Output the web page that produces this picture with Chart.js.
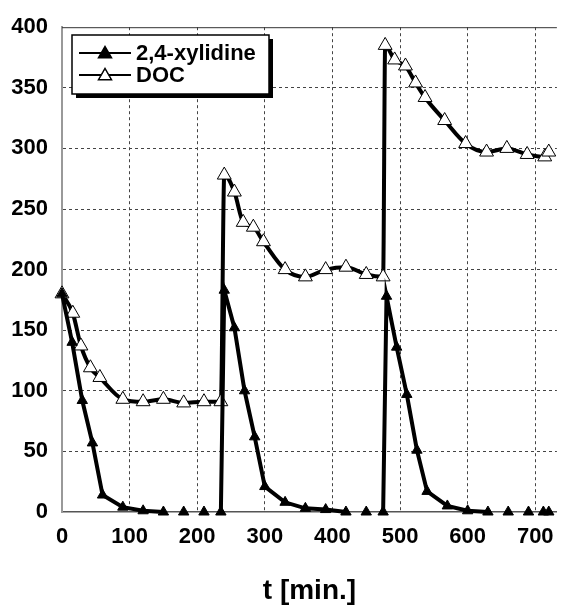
<!DOCTYPE html>
<html>
<head>
<meta charset="utf-8">
<script src="https://cdn.jsdelivr.net/npm/chart.js@4.4.0/dist/chart.umd.min.js"></script>
<style>
  html, body { margin: 0; padding: 0; background: #fff; }
  #wrap { width: 566px; height: 608px; }
</style>
</head>
<body>
<div id="wrap"><canvas id="myChart" width="566" height="608"></canvas></div>
<script>
    // Values
    const xylTime = [0, 15, 30, 45, 60, 90, 120, 150, 180, 210, 235,
                     240, 255, 270, 285, 300, 330, 360, 390, 420, 450, 475,
                     480, 495, 510, 525, 540, 570, 600, 630, 660, 690, 712, 720];
    const xylConc = [180, 140, 92, 57, 14, 4, 1, 0, 0, 0, 0,
                     183, 152, 100, 62, 21, 8, 3, 2, 0, 0, 0,
                     178, 136, 97, 51, 17, 5, 1, 0, 0, 0, 0, 0];

    const docTime = [0, 16, 28, 42, 56, 90, 120, 150, 180, 210, 235,
                     240, 255, 268, 283, 298, 330, 360, 390, 420, 450, 475,
                     478, 492, 508, 523, 537, 566, 597, 628, 658, 688, 714, 720];
    const docConc = [180, 164, 137, 119, 111, 93, 91, 93, 90, 91, 91,
                     278, 264, 239, 235, 223, 200, 194, 200, 202, 196, 194,
                     385, 373, 368, 354, 342, 323, 304, 297, 300, 295, 293, 297];

    const seriesLabels = ['2,4-xylidine', 'DOC'];
    const xTicks = [0, 100, 200, 300, 400, 500, 600, 700];
    const yTicks = [0, 50, 100, 150, 200, 250, 300, 350, 400];

    const FONT = '"Liberation Sans", Arial, Helvetica, sans-serif';

    function toPoints(xs, ys) {
        return xs.map((x, i) => ({ x: x, y: ys[i] }));
    }

    // legend box with drop shadow, drawn inside the plot
    const boxLegend = {
        id: 'boxLegend',
        afterDraw(chart) {
            const c = chart.ctx;
            const x0 = 72, y0 = 35, w = 197, h = 59;
            c.save();
            c.fillStyle = '#000';
            c.fillRect(x0 + 4, y0 + 4, w, h);
            c.fillStyle = '#fff';
            c.fillRect(x0, y0, w, h);
            c.strokeStyle = '#000';
            c.lineWidth = 1.5;
            c.strokeRect(x0, y0, w, h);
            chart.data.datasets.forEach((ds, i) => {
                const ly = 53 + i * 22;
                c.beginPath();
                c.moveTo(79, ly);
                c.lineTo(131, ly);
                c.lineWidth = 2;
                c.strokeStyle = '#000';
                c.stroke();
                Chart.helpers.drawPoint(c, {
                    pointStyle: 'triangle', radius: 7, borderWidth: 1, rotation: 0
                }, 105, ly + 1);
                c.fillStyle = ds.pointBackgroundColor;
                c.strokeStyle = '#000';
                c.lineWidth = 1;
                c.fill();
                c.stroke();
                c.fillStyle = '#000';
                c.font = 'bold 22px ' + FONT;
                c.textBaseline = 'middle';
                c.textAlign = 'left';
                c.fillText(ds.label, 136, ly + 1);
            });
            c.restore();
        }
    };

    // solid frame line along the top of the plot
    const topFrame = {
        id: 'topFrame',
        beforeDatasetsDraw(chart) {
            const a = chart.chartArea, c = chart.ctx;
            c.save();
            c.strokeStyle = '#333';
            c.lineWidth = 1;
            c.beginPath();
            c.moveTo(a.left, a.top + 0.5);
            c.lineTo(a.right, a.top + 0.5);
            c.stroke();
            c.restore();
        }
    };

    var ctx = document.getElementById('myChart').getContext('2d');
    var chart = new Chart(ctx, {
        type: 'line',
        data: {
            datasets: [
                {
                    label: seriesLabels[0],
                    data: toPoints(xylTime, xylConc),
                    borderColor: '#000',
                    borderWidth: 4,
                    pointStyle: 'triangle',
                    pointRadius: 6,
                    pointBackgroundColor: '#000',
                    pointBorderColor: '#000',
                    pointBorderWidth: 1,
                    tension: 0,
                    clip: false,
                    // no line between two zero readings
                    segment: {
                        borderColor: s => (s.p0.parsed.y === 0 && s.p1.parsed.y === 0) ? 'rgba(0,0,0,0)' : '#000'
                    }
                },
                {
                    label: seriesLabels[1],
                    data: toPoints(docTime, docConc),
                    borderColor: '#000',
                    borderWidth: 4,
                    pointStyle: 'triangle',
                    pointRadius: 8,
                    pointBackgroundColor: '#fff',
                    pointBorderColor: '#000',
                    pointBorderWidth: 1,
                    cubicInterpolationMode: 'monotone',
                    clip: false
                }
            ]
        },
        options: {
            responsive: false,
            animation: false,
            layout: { padding: { top: 24, right: 0, left: 0, bottom: 0 } },
            plugins: {
                legend: { display: false },
                tooltip: { enabled: false }
            },
            scales: {
                x: {
                    type: 'linear',
                    min: 0,
                    max: 732,
                    afterBuildTicks: axis => { axis.ticks = xTicks.map(v => ({ value: v })); },
                    afterFit: scale => { scale.height = 96; },
                    ticks: {
                        color: '#000',
                        padding: 12,
                        maxRotation: 0,
                        font: { family: FONT, size: 22, weight: 'bold' }
                    },
                    grid: {
                        drawTicks: false,
                        color: c => c.tick && c.tick.value === 0 ? 'rgba(0,0,0,0)' : '#444',
                        lineWidth: 1
                    },
                    border: { display: true, color: '#555', width: 1.5, dash: [3, 3] },
                    title: {
                        display: true,
                        text: 't [min.]',
                        color: '#000',
                        padding: { top: 0, bottom: 0 },
                        font: { family: FONT, size: 28, weight: 'bold' }
                    }
                },
                y: {
                    min: 0,
                    max: 400,
                    afterBuildTicks: axis => { axis.ticks = yTicks.map(v => ({ value: v })); },
                    afterFit: scale => { scale.width = 62; },
                    ticks: {
                        color: '#000',
                        padding: 14,
                        font: { family: FONT, size: 22, weight: 'bold' }
                    },
                    grid: {
                        drawTicks: false,
                        color: c => c.tick && (c.tick.value === 0 || c.tick.value === 400) ? 'rgba(0,0,0,0)' : '#444',
                        lineWidth: 1
                    },
                    border: { display: true, color: '#999', width: 2, dash: [3, 3] }
                }
            }
        },
        plugins: [topFrame, boxLegend]
    });
</script>
</body>
</html>
